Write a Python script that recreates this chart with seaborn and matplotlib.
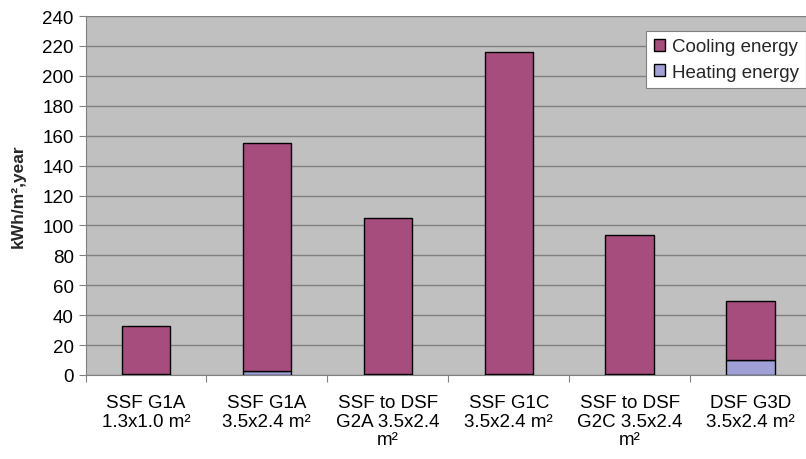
import matplotlib
matplotlib.use("Agg")
import matplotlib.pyplot as plt
from matplotlib.patches import Patch
from matplotlib.ticker import FixedLocator, MultipleLocator
import numpy as np
import pandas as pd
import seaborn as sns

categories = [
    "SSF G1A\n1.3x1.0 m²",
    "SSF G1A\n3.5x2.4 m²",
    "SSF to DSF\nG2A 3.5x2.4\nm²",
    "SSF G1C\n3.5x2.4 m²",
    "SSF to DSF\nG2C 3.5x2.4\nm²",
    "DSF G3D\n3.5x2.4 m²",
]
heating = [0.5, 3.0, 1.0, 1.0, 0.5, 10.0]
cooling = [32.5, 152.0, 104.0, 215.0, 93.0, 39.5]

df = pd.DataFrame({"case": categories, "heating": heating, "cooling": cooling})

sns.set_theme(style="white")
plt.rcParams["font.family"] = ["Liberation Sans", "DejaVu Sans"]

cool_color = "#A64D7E"
heat_color = "#A0A0D6"
bg_color = "#C0C0C0"

fig = plt.figure(figsize=(8.06, 4.6), dpi=100)
ax = fig.add_axes([85.5 / 806, 1 - 376 / 460, (811 - 85.5) / 806, (376 - 17) / 460])
ax.set_facecolor(bg_color)

sns.barplot(data=df, x="case", y="heating", color=heat_color, width=0.4,
            edgecolor="black", linewidth=1.0, saturation=1, ax=ax, zorder=3)
sns.barplot(data=df, x="case", y="cooling", color=cool_color, width=0.4,
            bottom=df["heating"], edgecolor="black", linewidth=1.0,
            saturation=1, ax=ax, zorder=3)

ax.set_xlim(-0.5, len(categories) - 0.5)
ax.set_ylim(0, 240)
ax.yaxis.set_major_locator(MultipleLocator(20))
ax.grid(axis="y", color="#808080", linewidth=1.0, zorder=0)
ax.set_axisbelow(True)

# x ticks sit between categories; labels stay centred under each bar
ax.xaxis.set_minor_locator(FixedLocator(np.arange(-0.5, len(categories), 1.0)))
ax.tick_params(axis="x", which="major", length=0, pad=14, labelsize=13.5, colors="black")
ax.tick_params(axis="x", which="minor", length=5, width=0.8, color="#808080", bottom=True)
ax.tick_params(axis="y", which="major", length=5, width=0.8, color="#808080",
               left=True, labelsize=13.5, pad=3.5, labelcolor="black")
for lbl in ax.get_xticklabels():
    lbl.set_linespacing(1.1)

ax.set_xlabel("")
ax.set_ylabel("kWh/m²,year", fontsize=12.5, fontweight="bold", labelpad=12)

for side in ["top", "right"]:
    ax.spines[side].set_visible(False)
for side in ["left", "bottom"]:
    ax.spines[side].set_color("#808080")
    ax.spines[side].set_linewidth(0.8)

handles = [
    Patch(facecolor=cool_color, edgecolor="black", label="Cooling energy"),
    Patch(facecolor=heat_color, edgecolor="black", label="Heating energy"),
]
leg = ax.legend(handles=handles, loc="upper right", bbox_to_anchor=(806 / 806, 1 - 32 / 460),
                bbox_transform=fig.transFigure, fontsize=13.5, frameon=True, fancybox=False,
                framealpha=1, edgecolor="#808080", handlelength=0.6, handleheight=0.6,
                handletextpad=0.35, borderpad=0.4, labelspacing=0.45, borderaxespad=0)
leg.get_frame().set_linewidth(0.8)

fig.savefig("out.png", dpi=100, facecolor="white")
